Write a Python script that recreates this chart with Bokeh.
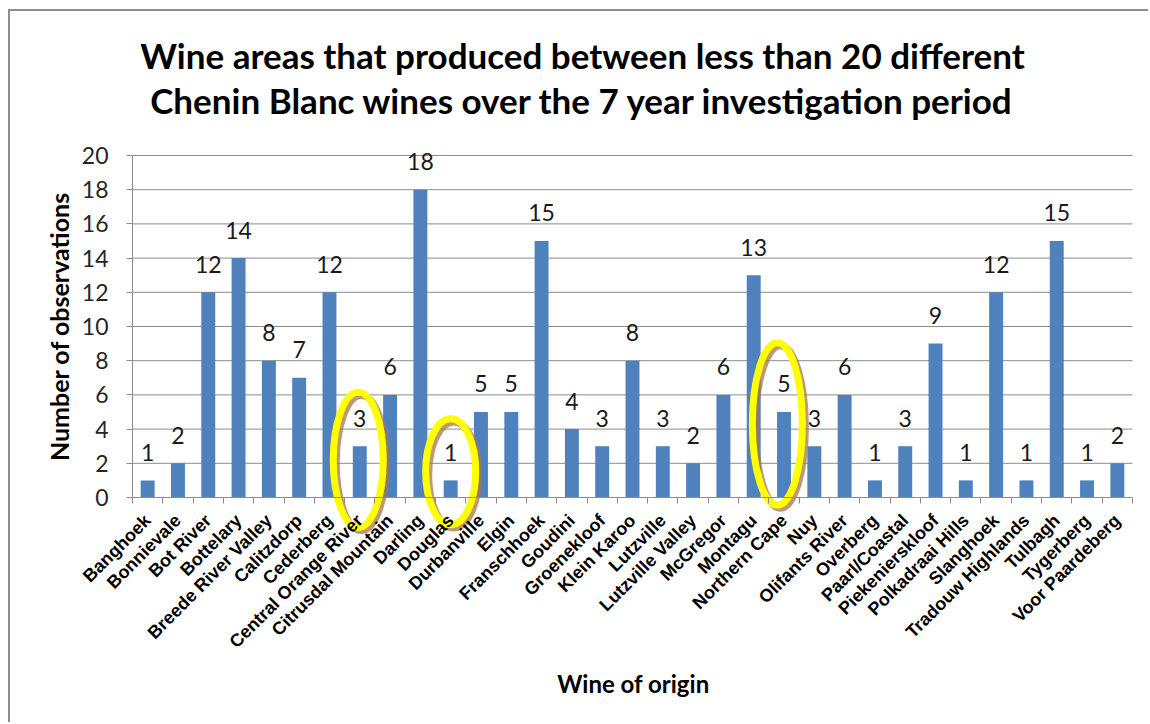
import math

from bokeh.core.properties import value
from bokeh.embed import file_html
from bokeh.models import FixedTicker, Label, Range1d
from bokeh.plotting import figure
from bokeh.resources import INLINE

# Wine of origin areas and number of Chenin Blanc observations per area
regions = [
    "Banghoek", "Bonnievale", "Bot River", "Bottelary", "Breede River Valley",
    "Calitzdorp", "Cederberg", "Central Orange River", "Citrusdal Mountain",
    "Darling", "Douglas", "Durbanville", "Elgin", "Franschhoek", "Goudini",
    "Groenekloof", "Klein Karoo", "Lutzville", "Lutzville Valley", "McGregor",
    "Montagu", "Northern Cape", "Nuy", "Olifants River", "Overberg",
    "Paarl/Coastal", "Piekenierskloof", "Polkadraai Hills", "Slanghoek",
    "Tradouw Highlands", "Tulbagh", "Tygerberg", "Voor Paardeberg",
]
observations = [
    1, 2, 12, 14, 8,
    7, 12, 3, 6,
    18, 1, 5, 5, 15, 4,
    3, 8, 3, 2, 6,
    13, 5, 3, 6, 1,
    3, 9, 1, 12,
    1, 15, 1, 2,
]
y_ticks = [0, 2, 4, 6, 8, 10, 12, 14, 16, 18, 20]

# areas circled on the chart: (area, sideways nudge, vertical centre, height)
circled = [
    ("Central Orange River", -0.05, 2.2, 7.9),
    ("Douglas", 0.0, 1.5, 6.2),
    ("Northern Cape", -0.22, 4.3, 9.5),
]

GRID = "#8c8c8c"
BAR = "#4F81BD"
FONT = "Lato"

# one slot per area, centred on whole numbers
positions = list(range(1, len(regions) + 1))
edges = [i - 0.5 for i in positions] + [positions[-1] + 0.5]
left_edge, right_edge = edges[0], edges[-1]

# the plotting frame fills the whole canvas; axes are pinned inside it
p = figure(
    x_range=Range1d(-3.526, 34.094),
    y_range=Range1d(-13.275, 28.421),
    width=1140,
    height=713,
    min_border=0,
    output_backend="svg",
    toolbar_location=None,
)
p.styles = {
    "margin-left": "8px",
    "margin-top": "9px",
    "border-left": f"2px solid {GRID}",
    "border-top": f"2px solid {GRID}",
}
p.outline_line_color = None
p.background_fill_color = "white"
p.border_fill_color = "white"
p.xgrid.visible = False
p.ygrid.visible = False

# horizontal gridlines across the category span
grid_levels = [t for t in y_ticks if t > 0]
p.segment(x0=[left_edge] * len(grid_levels), y0=grid_levels,
          x1=[right_edge] * len(grid_levels), y1=grid_levels,
          line_color=GRID, line_width=1)

# y axis on the left edge of the categories
p.yaxis.fixed_location = left_edge
p.yaxis.ticker = FixedTicker(ticks=y_ticks)
p.yaxis.bounds = (0, 20)
p.yaxis.axis_line_color = GRID
p.yaxis.major_tick_line_color = GRID
p.yaxis.major_tick_out = 6
p.yaxis.major_tick_in = 0
p.yaxis.minor_tick_line_color = None
p.yaxis.major_label_standoff = 18
p.yaxis.major_label_text_font = FONT
p.yaxis.major_label_text_font_size = "23px"
p.yaxis.major_label_text_color = "#262626"

# x axis on the zero line, ticks between the areas
p.xaxis.fixed_location = 0
p.xaxis.ticker = FixedTicker(ticks=positions, minor_ticks=edges)
p.xaxis.major_label_overrides = {pos: name for pos, name in zip(positions, regions)}
p.xaxis.bounds = (left_edge, right_edge)
p.xaxis.axis_line_color = GRID
p.xaxis.major_tick_line_color = None
p.xaxis.major_tick_out = 0
p.xaxis.major_tick_in = 0
p.xaxis.minor_tick_line_color = GRID
p.xaxis.minor_tick_out = 6
p.xaxis.minor_tick_in = 0
p.xaxis.major_label_standoff = 14
p.xaxis.major_label_orientation = math.pi / 4
p.xaxis.major_label_text_font = "Liberation Sans"
p.xaxis.major_label_text_font_style = "bold"
p.xaxis.major_label_text_font_size = "18px"
p.xaxis.major_label_text_color = "black"

# bars and value labels
p.vbar(x=positions, top=observations, width=0.46, fill_color=BAR, line_color=None)
p.text(
    x=positions,
    y=observations,
    text=[str(v) for v in observations],
    text_align="center",
    text_baseline="alphabetic",
    y_offset=-28,
    text_font=value(FONT),
    text_font_size="23px",
    text_color="#1a1a1a",
)

# highlight rings with a soft brown shadow
centres = [positions[regions.index(name)] + nudge for name, nudge, _, _ in circled]
mids = [m for _, _, m, _ in circled]
spans = [h for _, _, _, h in circled]
p.ellipse(x=[c + 0.1 for c in centres], y=[m - 0.18 for m in mids],
          width=1.65, height=spans, fill_color=None,
          line_color="#a8764e", line_alpha=0.75, line_width=7)
p.ellipse(x=centres, y=mids, width=1.65, height=spans, fill_color=None,
          line_color="#FFFF00", line_width=7)

# chart title and axis titles
def caption(x, y, text, size, angle=0.0):
    p.add_layout(Label(x=x, y=y, text=text, angle=angle,
                       text_align="center", text_baseline="middle",
                       text_font=FONT, text_font_style="bold",
                       text_font_size=size, text_color="black"))

caption(15.35, 25.85, "Wine areas that produced between less than 20 different", "35px")
caption(15.35, 23.22, "Chenin Blanc wines over the 7 year investigation period", "35px")
caption(-1.93, 10, "Number of observations", "25px", angle=math.pi / 2)
caption(17.03, -10.88, "Wine of origin", "24px")

open("out.html", "w").write(file_html(p, INLINE))
